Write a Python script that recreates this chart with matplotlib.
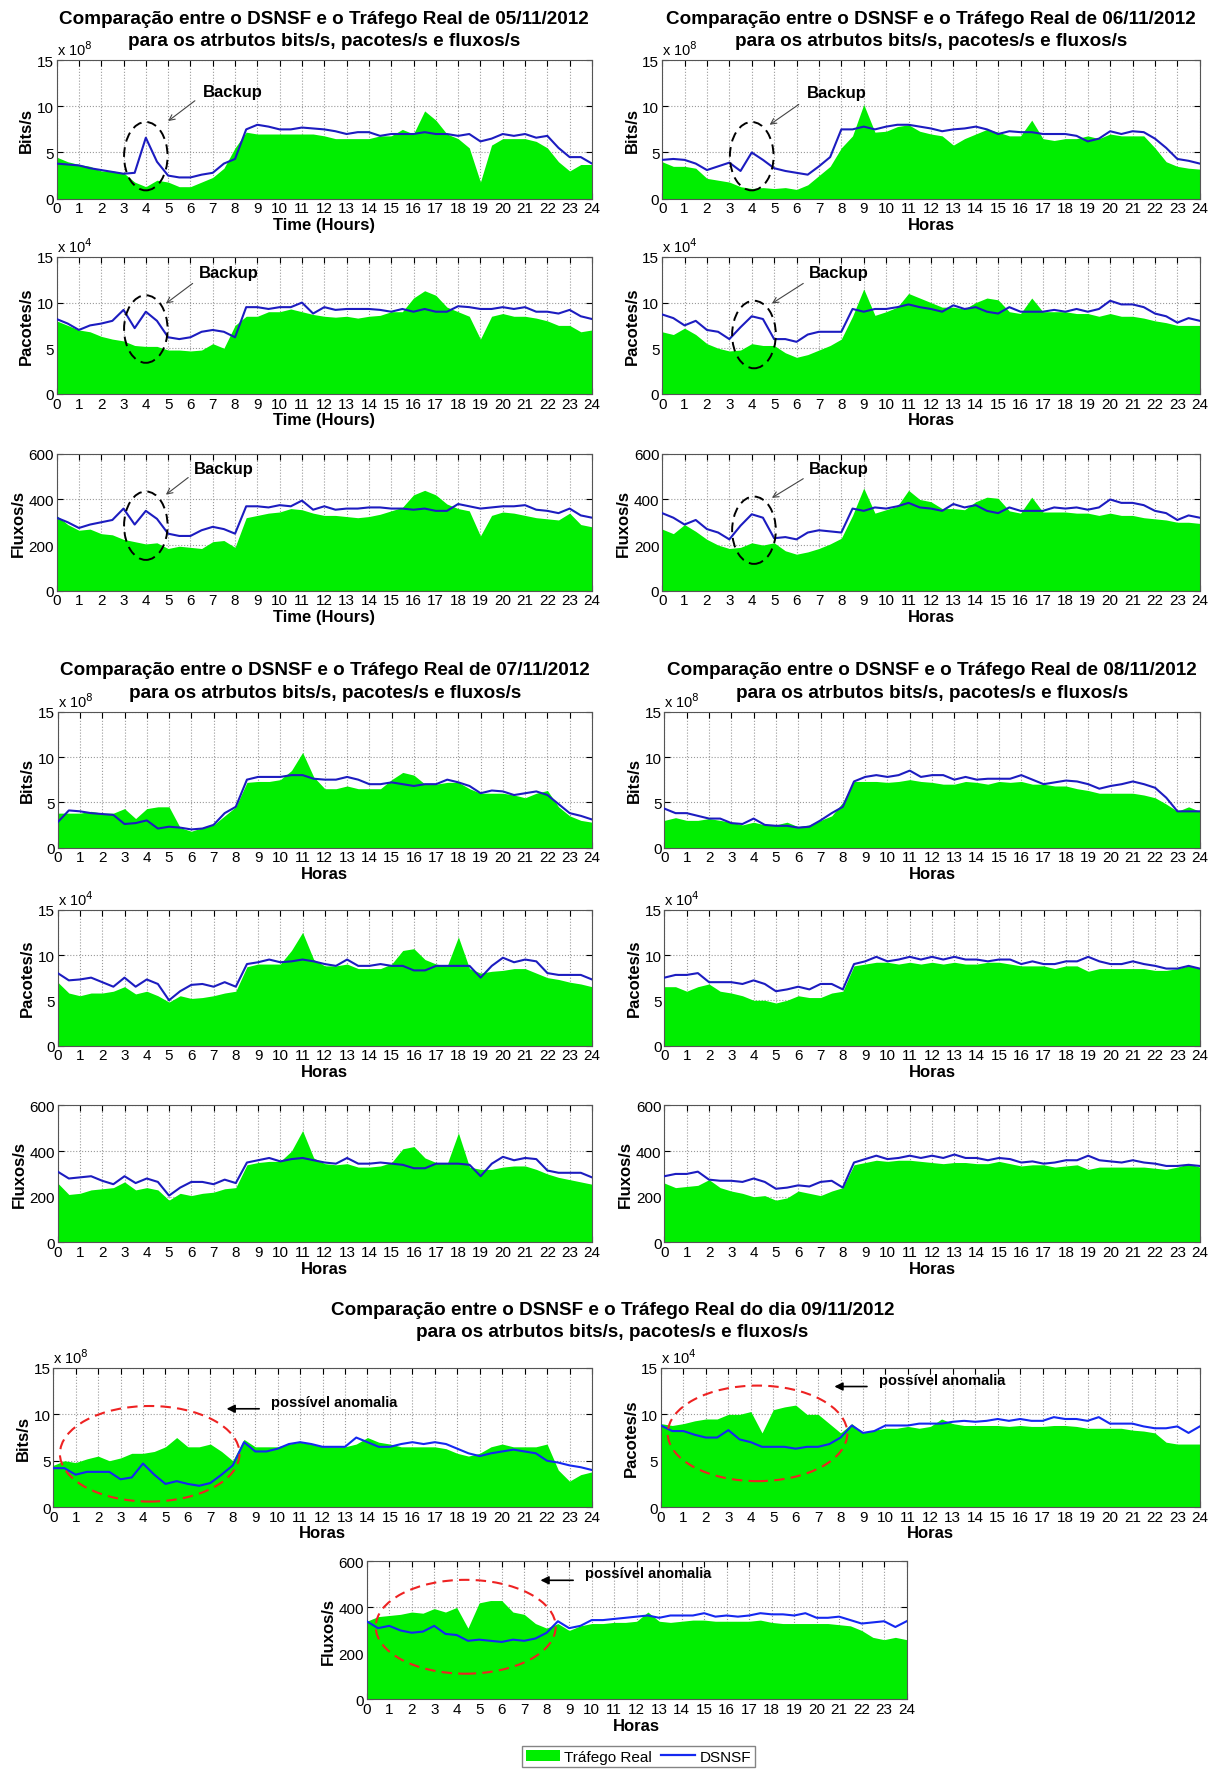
import numpy as np
import matplotlib
matplotlib.use("Agg")
import matplotlib.pyplot as plt
from matplotlib.patches import Ellipse, Patch
from matplotlib.lines import Line2D

plt.rcParams['font.family'] = ['Liberation Sans', 'DejaVu Sans']

# half-hour samples over the day
hours = np.arange(0, 24.5, 0.5)

# ---- 05/11/2012 ----
bits_real_05 = [4.5, 4.0, 3.7, 3.5, 3.0, 3.0, 2.8, 1.8, 1.3, 2.0, 1.8, 1.3, 1.3, 1.8, 2.3, 3.3, 5.5,
                7.2, 7.0, 7.0, 7.0, 7.0, 7.0, 7.0, 6.8, 6.5, 6.5, 6.5, 6.5, 6.8, 6.8, 7.5, 7.0,
                9.5, 8.5, 7.0, 6.5, 5.5, 1.8, 5.8, 6.5, 6.5, 6.5, 6.2, 5.5, 4.0, 3.0, 3.7, 3.7]
bits_dsnsf_05 = [3.8, 3.7, 3.6, 3.3, 3.1, 2.9, 2.7, 2.8, 6.6, 4.0, 2.5, 2.3, 2.3, 2.6, 2.8, 3.8, 4.3,
                 7.5, 8.0, 7.8, 7.5, 7.5, 7.7, 7.6, 7.5, 7.3, 7.0, 7.2, 7.2, 6.8, 7.0, 7.0, 7.0,
                 7.2, 7.0, 7.0, 6.8, 7.0, 6.2, 6.5, 7.0, 6.8, 7.0, 6.6, 6.8, 5.5, 4.5, 4.5, 3.8]
pac_real_05 = [8.0, 7.5, 7.0, 6.8, 6.3, 6.0, 5.8, 5.3, 5.2, 5.2, 4.8, 4.8, 4.7, 4.8, 5.5, 5.0, 7.5,
               8.5, 8.5, 9.0, 9.0, 9.3, 9.0, 8.7, 8.5, 8.4, 8.5, 8.3, 8.5, 8.6, 9.0, 9.0, 10.5,
               11.3, 10.8, 9.5, 9.0, 8.5, 6.0, 8.5, 8.8, 8.5, 8.5, 8.3, 8.0, 7.5, 7.5, 6.8, 7.0]
pac_dsnsf_05 = [8.2, 7.7, 7.0, 7.5, 7.7, 8.0, 9.2, 7.2, 9.0, 8.0, 6.2, 6.0, 6.2, 6.8, 7.0, 6.8, 6.2,
                9.5, 9.5, 9.3, 9.5, 9.5, 10.0, 8.8, 9.5, 9.2, 9.3, 9.3, 9.3, 9.2, 9.0, 9.3, 9.0,
                9.3, 9.0, 9.0, 9.6, 9.5, 9.3, 9.3, 9.5, 9.3, 9.5, 9.0, 9.0, 8.8, 9.2, 8.5, 8.2]
flux_real_05 = [330, 290, 265, 270, 250, 245, 225, 215, 205, 210, 185, 195, 190, 185, 215, 220, 190,
                320, 330, 340, 345, 360, 355, 340, 330, 330, 325, 320, 325, 335, 350, 365, 420,
                440, 420, 380, 360, 350, 240, 330, 345, 340, 330, 320, 315, 310, 340, 290, 280]
flux_dsnsf_05 = [320, 300, 275, 290, 300, 310, 360, 290, 350, 315, 250, 240, 240, 265, 280, 270, 250,
                 370, 370, 365, 375, 370, 395, 355, 370, 355, 360, 360, 365, 365, 360, 360, 355,
                 360, 350, 350, 380, 370, 360, 365, 370, 370, 375, 355, 350, 340, 360, 330, 320]

# ---- 06/11/2012 ----
bits_real_06 = [4.0, 3.5, 3.5, 3.3, 2.2, 2.0, 1.8, 1.3, 1.1, 1.2, 1.1, 1.2, 1.0, 1.5, 2.5, 3.5, 5.5,
                6.8, 10.2, 7.2, 7.3, 7.8, 8.0, 7.3, 7.0, 6.8, 5.8, 6.5, 7.0, 7.5, 7.2, 6.8, 6.8,
                8.5, 6.5, 6.3, 6.5, 6.5, 6.8, 6.5, 7.0, 6.8, 6.8, 6.8, 5.5, 4.0, 3.5, 3.3, 3.2]
bits_dsnsf_06 = [4.2, 4.3, 4.2, 3.8, 3.1, 3.5, 3.9, 3.0, 5.0, 4.2, 3.3, 3.0, 2.8, 2.6, 3.5, 4.5, 7.5,
                 7.5, 7.8, 7.5, 7.8, 8.0, 8.0, 7.8, 7.6, 7.3, 7.5, 7.6, 7.8, 7.5, 7.0, 7.3, 7.2,
                 7.2, 7.0, 7.0, 7.0, 6.8, 6.2, 6.5, 7.3, 7.0, 7.3, 7.2, 6.5, 5.5, 4.3, 4.1, 3.8]
pac_real_06 = [6.8, 6.5, 7.2, 6.5, 5.5, 5.0, 4.7, 4.8, 5.5, 5.3, 5.3, 4.5, 4.0, 4.3, 4.8, 5.3, 6.0,
               8.5, 11.5, 8.6, 9.0, 9.5, 11.0, 10.5, 10.0, 9.5, 9.5, 9.3, 10.0, 10.5, 10.3, 9.0, 8.8,
               10.5, 9.0, 9.0, 9.0, 8.8, 8.8, 8.5, 8.8, 8.5, 8.5, 8.3, 8.0, 7.8, 7.5, 7.5, 7.5]
pac_dsnsf_06 = [8.7, 8.3, 7.5, 8.0, 7.0, 6.8, 6.0, 7.3, 8.5, 8.2, 6.0, 6.0, 5.7, 6.5, 6.8, 6.8, 6.8,
                9.3, 9.0, 9.3, 9.3, 9.5, 9.8, 9.5, 9.3, 9.0, 9.7, 9.3, 9.5, 9.0, 8.8, 9.5, 9.0,
                9.0, 9.0, 9.2, 9.0, 9.3, 9.0, 9.3, 10.2, 9.8, 9.8, 9.5, 8.8, 8.5, 7.8, 8.3, 8.0]
flux_real_06 = [270, 250, 290, 260, 225, 200, 185, 190, 210, 200, 210, 175, 160, 170, 185, 205, 230,
                330, 450, 340, 355, 370, 440, 400, 390, 360, 360, 355, 390, 410, 405, 350, 340,
                410, 345, 345, 345, 340, 340, 330, 340, 330, 330, 320, 315, 310, 300, 300, 295]
flux_dsnsf_06 = [340, 320, 290, 310, 270, 255, 225, 285, 335, 320, 230, 235, 225, 255, 265, 260, 255,
                 360, 350, 365, 360, 370, 385, 365, 360, 350, 380, 365, 375, 350, 340, 365, 350,
                 350, 350, 365, 360, 365, 355, 365, 400, 385, 385, 375, 350, 340, 310, 330, 320]

# ---- 07/11/2012 ----
bits_real_07 = [3.8, 3.8, 3.8, 4.0, 3.8, 3.8, 4.3, 3.2, 4.3, 4.5, 4.5, 2.2, 1.8, 2.2, 2.5, 3.5, 4.5,
                7.2, 7.3, 7.3, 7.5, 8.5, 10.5, 7.8, 6.5, 6.5, 6.8, 6.5, 6.5, 6.5, 7.5, 8.3, 8.0,
                7.0, 7.0, 7.2, 7.2, 6.5, 6.0, 6.0, 6.0, 5.8, 5.5, 6.0, 6.3, 4.5, 3.5, 3.0, 2.8]
bits_dsnsf_07 = [2.8, 4.1, 4.0, 3.8, 3.7, 3.6, 2.6, 2.7, 3.0, 2.1, 2.3, 2.2, 2.0, 2.1, 2.5, 3.8, 4.5,
                 7.5, 7.8, 7.8, 7.8, 8.0, 8.0, 7.6, 7.5, 7.5, 7.8, 7.5, 7.0, 7.0, 7.2, 7.0, 6.8,
                 7.0, 7.0, 7.5, 7.2, 6.8, 6.0, 6.3, 6.2, 5.8, 6.0, 6.2, 5.8, 4.8, 3.8, 3.5, 3.1]
pac_real_07 = [7.0, 5.8, 5.5, 5.8, 5.8, 6.0, 6.5, 5.7, 6.0, 5.5, 4.8, 5.5, 5.2, 5.3, 5.5, 5.8, 6.0,
               8.7, 9.0, 9.0, 9.0, 10.5, 12.5, 9.5, 8.8, 8.8, 9.0, 8.5, 8.5, 8.5, 9.0, 10.5, 10.7,
               9.5, 9.0, 8.8, 12.0, 8.5, 8.0, 8.2, 8.3, 8.5, 8.5, 8.0, 7.5, 7.3, 7.0, 6.8, 6.5]
pac_dsnsf_07 = [8.0, 7.2, 7.3, 7.5, 7.0, 6.5, 7.5, 6.5, 7.3, 6.8, 5.0, 6.0, 6.7, 6.8, 6.5, 7.0, 6.5,
                9.0, 9.2, 9.5, 9.2, 9.3, 9.5, 9.3, 9.0, 8.8, 9.5, 8.8, 8.8, 9.0, 8.8, 8.8, 8.3,
                8.3, 8.8, 8.8, 8.8, 8.8, 7.5, 8.8, 9.7, 9.2, 9.5, 9.3, 8.0, 7.8, 7.8, 7.8, 7.3]
flux_real_07 = [260, 210, 215, 230, 235, 240, 265, 230, 240, 230, 185, 215, 205, 215, 220, 235, 240,
                340, 350, 355, 355, 400, 490, 370, 345, 340, 345, 330, 330, 335, 350, 410, 420,
                370, 350, 345, 480, 330, 320, 320, 330, 335, 335, 320, 300, 285, 275, 265, 255]
flux_dsnsf_07 = [310, 280, 285, 290, 270, 255, 290, 260, 280, 265, 205, 240, 265, 265, 255, 275, 260,
                 350, 360, 370, 355, 365, 370, 360, 350, 345, 370, 345, 345, 350, 345, 340, 325,
                 325, 345, 345, 345, 340, 290, 345, 375, 360, 370, 365, 315, 305, 305, 305, 285]

# ---- 08/11/2012 ----
bits_real_08 = [3.0, 3.3, 3.0, 3.0, 3.2, 3.0, 2.8, 2.5, 2.8, 2.5, 2.5, 2.8, 2.3, 2.5, 3.0, 3.5, 5.0,
                7.3, 7.3, 7.3, 7.2, 7.3, 7.5, 7.3, 7.2, 7.0, 7.0, 7.3, 7.2, 7.0, 7.3, 7.2, 7.3,
                7.0, 7.0, 6.8, 6.8, 6.5, 6.3, 6.0, 6.0, 6.0, 6.0, 5.8, 5.5, 4.8, 4.0, 4.5, 4.0]
bits_dsnsf_08 = [4.3, 3.8, 3.8, 3.5, 3.2, 3.2, 2.7, 2.6, 3.2, 2.5, 2.4, 2.4, 2.2, 2.3, 3.0, 3.8, 4.5,
                 7.3, 7.8, 8.0, 7.8, 8.0, 8.5, 7.8, 8.0, 8.0, 7.5, 7.8, 7.5, 7.6, 7.6, 7.6, 8.0,
                 7.5, 7.0, 7.2, 7.4, 7.3, 7.0, 6.5, 6.8, 7.0, 7.3, 7.0, 6.6, 5.5, 4.0, 4.0, 4.0]
pac_real_08 = [6.5, 6.5, 6.0, 6.5, 6.8, 6.0, 5.8, 5.5, 5.0, 5.0, 4.7, 5.0, 5.5, 5.3, 5.3, 5.8, 6.0,
               8.8, 9.0, 9.2, 9.2, 9.0, 9.2, 9.0, 9.2, 9.0, 9.2, 9.0, 9.0, 9.2, 9.2, 9.0, 8.8,
               8.8, 8.8, 8.5, 8.8, 8.8, 8.2, 8.5, 8.5, 8.5, 8.5, 8.5, 8.3, 8.3, 8.5, 8.8, 8.5]
pac_dsnsf_08 = [7.5, 7.8, 7.8, 8.0, 7.0, 7.0, 7.0, 6.8, 7.2, 6.8, 6.0, 6.2, 6.5, 6.2, 6.8, 6.8, 6.2,
                9.0, 9.3, 9.8, 9.3, 9.5, 9.8, 9.5, 9.8, 9.5, 9.8, 9.5, 9.5, 9.3, 9.5, 9.5, 9.0,
                9.3, 9.0, 9.0, 9.3, 9.3, 9.8, 9.3, 9.0, 9.0, 9.3, 9.0, 8.8, 8.5, 8.5, 8.8, 8.5]
flux_real_08 = [260, 240, 245, 250, 275, 240, 225, 215, 200, 205, 185, 195, 225, 215, 205, 225, 240,
                340, 350, 360, 355, 360, 360, 355, 350, 345, 350, 350, 345, 345, 355, 345, 335,
                340, 340, 330, 335, 340, 320, 330, 330, 330, 330, 330, 325, 320, 330, 345, 330]
flux_dsnsf_08 = [290, 300, 300, 310, 275, 270, 270, 265, 280, 265, 235, 240, 250, 245, 265, 270, 240,
                 350, 365, 380, 365, 370, 380, 370, 380, 370, 385, 370, 370, 360, 370, 365, 350,
                 355, 345, 350, 360, 360, 380, 360, 355, 350, 360, 350, 345, 335, 335, 340, 335]

# ---- 09/11/2012 ----
bits_real_09 = [4.5, 5.0, 4.8, 5.2, 5.5, 5.0, 5.3, 5.8, 5.8, 6.0, 6.5, 7.5, 6.5, 6.5, 6.8, 6.0, 5.0,
                7.3, 6.5, 6.5, 6.5, 6.8, 7.0, 6.8, 6.5, 6.5, 6.5, 6.8, 7.5, 7.0, 6.8, 6.5, 6.5,
                6.5, 6.5, 6.3, 5.8, 5.5, 5.8, 6.5, 6.8, 6.5, 6.5, 6.5, 6.8, 4.0, 2.8, 3.5, 3.8]
bits_dsnsf_09 = [4.2, 4.2, 3.5, 3.8, 3.8, 3.8, 3.0, 3.2, 4.7, 3.5, 2.5, 2.8, 2.5, 2.3, 2.6, 3.5, 4.5,
                 7.0, 6.0, 6.0, 6.3, 6.8, 7.0, 6.8, 6.5, 6.5, 6.5, 7.5, 7.0, 6.5, 6.5, 6.8, 7.0,
                 6.8, 7.0, 6.8, 6.3, 5.8, 5.5, 5.8, 6.0, 6.2, 6.0, 5.8, 5.0, 4.8, 4.5, 4.3, 4.0]
pac_real_09 = [9.0, 8.8, 9.0, 9.3, 9.5, 9.5, 10.0, 10.0, 10.3, 8.0, 10.5, 10.8, 11.0, 10.0, 10.0, 9.0, 8.0,
               9.0, 8.0, 8.3, 8.5, 8.5, 8.7, 8.5, 8.7, 9.5, 9.0, 8.8, 8.8, 8.8, 8.8, 8.7, 8.8,
               8.7, 8.7, 8.8, 8.8, 8.7, 8.5, 8.5, 8.5, 8.5, 8.3, 8.2, 8.0, 7.0, 6.8, 6.8, 6.8]
pac_dsnsf_09 = [8.8, 8.2, 8.2, 7.8, 7.5, 7.5, 8.3, 7.3, 7.0, 6.5, 6.5, 6.5, 6.3, 6.5, 6.5, 6.8, 7.5,
                8.8, 8.0, 8.2, 8.8, 8.8, 8.8, 9.0, 9.0, 9.0, 9.2, 9.3, 9.2, 9.3, 9.5, 9.3, 9.5,
                9.3, 9.3, 9.7, 9.5, 9.5, 9.3, 9.7, 9.0, 9.0, 9.0, 8.7, 8.5, 8.5, 8.7, 8.0, 8.7]
flux_real_09 = [340, 360, 365, 370, 380, 375, 395, 380, 400, 310, 420, 430, 430, 380, 370, 330, 310,
                330, 300, 320, 330, 330, 335, 335, 340, 380, 340, 335, 340, 345, 345, 340, 340,
                340, 340, 345, 335, 330, 330, 330, 330, 330, 325, 320, 300, 270, 260, 270, 260]
flux_dsnsf_09 = [340, 310, 320, 300, 290, 295, 320, 285, 280, 255, 260, 255, 250, 260, 255, 265, 290,
                 340, 310, 320, 345, 345, 350, 355, 360, 365, 355, 365, 365, 365, 375, 360, 365,
                 360, 365, 375, 370, 370, 365, 375, 355, 355, 360, 345, 330, 335, 340, 315, 340]

GREEN = '#00ee00'
BLUE = '#1c1cc0'

# y-axis setup per attribute: label, limit, ticks, exponent shown above the axis
ATTR = {
    'bits': ('Bits/s', 15, [0, 5, 10, 15], '8'),
    'pac': ('Pacotes/s', 15, [0, 5, 10, 15], '4'),
    'flux': ('Fluxos/s', 600, [0, 200, 400, 600], None),
}

W, H = 1077.0, 1568.0
fig = plt.figure(figsize=(12.19, 17.74), dpi=100)


def add_ax(x0, x1, y0, y1):
    return fig.add_axes([x0 / W, 1 - y1 / H, (x1 - x0) / W, (y1 - y0) / H])


def draw_panel(ax, real, dsnsf, attr, xlabel, blue=BLUE):
    label, top, yt, expo = ATTR[attr]
    ax.fill_between(hours, 0, real, color=GREEN, lw=0, zorder=2)
    ax.plot(hours, dsnsf, color=blue, lw=1.5, zorder=3)
    ax.set_xlim(0, 24)
    ax.set_ylim(0, top)
    ax.set_xticks(range(25))
    ax.set_yticks(yt)
    ax.set_axisbelow(True)
    ax.grid(True, ls=':', color='#999999', lw=0.8)
    ax.tick_params(direction='in', top=True, right=True, length=4, labelsize=11, pad=2)
    ax.set_ylabel(label, fontsize=12, fontweight='bold', labelpad=2)
    ax.set_xlabel(xlabel, fontsize=12, fontweight='bold', labelpad=1)
    for s in ax.spines.values():
        s.set_color('#555555')
        s.set_linewidth(0.8)
    if expo:
        ax.text(0.0, 1.015, r'x 10$^{%s}$' % expo, transform=ax.transAxes,
                fontsize=10.5, ha='left', va='bottom')


def backup_mark(ax, cy, h, text_xy, tail, head, cx=4.0):
    ax.add_patch(Ellipse((cx, cy), 1.95, h, fill=False, ec='k', lw=1.4,
                         ls=(0, (5, 3)), zorder=4))
    ax.annotate('', xy=head, xytext=tail,
                arrowprops=dict(arrowstyle='->', color='#444444', lw=0.8,
                                shrinkA=0, shrinkB=0), zorder=5)
    ax.text(text_xy[0], text_xy[1], 'Backup', fontsize=12, fontweight='bold',
            ha='center', va='center', zorder=5)


def anomaly_mark(ax, cy, h, ay, x0=0.3, x1=8.3):
    ax.add_patch(Ellipse(((x0 + x1) / 2, cy), x1 - x0, h, fill=False, ec='#ee2222',
                         lw=1.5, ls=(0, (5, 3)), zorder=4))
    ax.annotate('', xy=(7.6, ay), xytext=(9.3, ay),
                arrowprops=dict(arrowstyle='-|>', color='k', lw=1.2, mutation_scale=12))
    ax.text(9.7, ay, 'possível anomalia', fontsize=10.5, fontweight='bold',
            ha='left', va='bottom')


title_a = 'Comparação entre o DSNSF e o Tráfego Real de {}'
title_b = 'para os atrbutos bits/s, pacotes/s e fluxos/s'

blocks = [
    (0, ('05/11/2012', 50, 523, 'Time (Hours)',
         [bits_real_05, pac_real_05, flux_real_05],
         [bits_dsnsf_05, pac_dsnsf_05, flux_dsnsf_05])),
    (0, ('06/11/2012', 585, 1060, 'Horas',
         [bits_real_06, pac_real_06, flux_real_06],
         [bits_dsnsf_06, pac_dsnsf_06, flux_dsnsf_06])),
    (1, ('07/11/2012', 51, 523, 'Horas',
         [bits_real_07, pac_real_07, flux_real_07],
         [bits_dsnsf_07, pac_dsnsf_07, flux_dsnsf_07])),
    (1, ('08/11/2012', 587, 1060, 'Horas',
         [bits_real_08, pac_real_08, flux_real_08],
         [bits_dsnsf_08, pac_dsnsf_08, flux_dsnsf_08])),
]
rows = [
    [(54, 176.5), (228, 349), (402, 523)],
    [(630, 750), (805, 925), (978, 1099)],
]
attrs = ['bits', 'pac', 'flux']

axes_up = {}
for r, (day, x0, x1, xl, reals, dsnsfs) in blocks:
    for k in range(3):
        y0, y1 = rows[r][k]
        ax = add_ax(x0, x1, y0, y1)
        draw_panel(ax, reals[k], dsnsfs[k], attrs[k], xl)
        axes_up[(day, k)] = ax
    ty = rows[r][0][0]
    fig.text((x0 + x1) / 2 / W, 1 - (ty - 37) / H, title_a.format(day),
             fontsize=13.6, fontweight='bold', ha='center', va='center')
    fig.text((x0 + x1) / 2 / W, 1 - (ty - 17) / H, title_b,
             fontsize=13.6, fontweight='bold', ha='center', va='center')

# backup annotations on 05/11 and 06/11
backup_mark(axes_up[('05/11/2012', 0)], 4.6, 7.4, (7.9, 11.6), (6.2, 10.6), (5.0, 8.4))
backup_mark(axes_up[('05/11/2012', 1)], 7.1, 7.4, (7.7, 13.3), (6.1, 12.1), (4.9, 9.9))
backup_mark(axes_up[('05/11/2012', 2)], 285, 300, (7.5, 536), (5.9, 496), (4.9, 421))
backup_mark(axes_up[('06/11/2012', 0)], 4.6, 7.4, (7.8, 11.5), (6.1, 10.2), (4.8, 8.0), cx=4.0)
backup_mark(axes_up[('06/11/2012', 1)], 6.5, 7.4, (7.9, 13.3), (6.3, 12.1), (4.9, 9.9), cx=4.1)
backup_mark(axes_up[('06/11/2012', 2)], 265, 295, (7.9, 535), (6.3, 491), (4.9, 407), cx=4.1)

# lower block: 09/11/2012
BLUE9 = '#1428f0'
ax1 = add_ax(47, 523, 1210, 1333)
draw_panel(ax1, bits_real_09, bits_dsnsf_09, 'bits', 'Horas', BLUE9)
anomaly_mark(ax1, 5.75, 10.3, 10.6)
ax2 = add_ax(584, 1060, 1210, 1333)
draw_panel(ax2, pac_real_09, pac_dsnsf_09, 'pac', 'Horas', BLUE9)
anomaly_mark(ax2, 7.95, 10.3, 13.0)
ax3 = add_ax(324, 801, 1381, 1503)
draw_panel(ax3, flux_real_09, flux_dsnsf_09, 'flux', 'Horas', BLUE9)
anomaly_mark(ax3, 316, 408, 518, x0=0.4, x1=8.4)

fig.text(541 / W, 1 - 1158 / H, 'Comparação entre o DSNSF e o Tráfego Real do dia 09/11/2012',
         fontsize=13.6, fontweight='bold', ha='center', va='center')
fig.text(541 / W, 1 - 1178 / H, title_b,
         fontsize=13.6, fontweight='bold', ha='center', va='center')

handles = [Patch(fc=GREEN, ec='none'), Line2D([], [], color=BLUE9, lw=1.6)]
fig.legend(handles, ['Tráfego Real', 'DSNSF'], loc='upper center', ncol=2,
           bbox_to_anchor=(564 / W, 1 - 1544 / H), fontsize=11, frameon=True,
           fancybox=False, edgecolor='#666666', handlelength=2.2, columnspacing=0.6,
           handletextpad=0.3, borderpad=0.25, borderaxespad=0.0)

fig.savefig('out.png', dpi=100, facecolor='white')
